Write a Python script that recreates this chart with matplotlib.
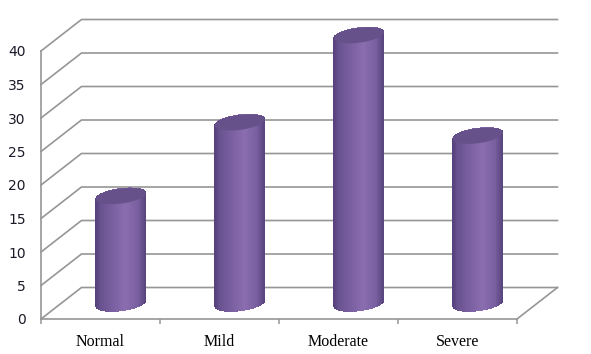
import numpy as np
import matplotlib.pyplot as plt
from matplotlib.collections import PolyCollection
from matplotlib.patches import Polygon
from matplotlib.colors import to_rgb

categories = ['Normal', 'Mild', 'Moderate', 'Severe']
values = [16, 27, 40, 25]
yticks = [0, 5, 10, 15, 20, 25, 30, 35, 40]

# oblique "3d" depth offset in data units
DX, DY = 0.34, 4.7
grid_col = '#969696'


def proj(x, y, d):
    return x + d * DX, y + d * DY


fig = plt.figure(figsize=(5.91, 3.54), dpi=100)
ax = fig.add_axes([41 / 591, 35 / 354, 476 / 591, 268 / 354])
ax.set_xlim(0, 4)
ax.set_ylim(0, 40)

for s in ['top', 'right']:
    ax.spines[s].set_visible(False)
for s in ['left', 'bottom']:
    ax.spines[s].set_color(grid_col)
    ax.spines[s].set_linewidth(1.2)

ax.set_yticks(yticks)
ax.set_yticklabels([str(v) for v in yticks])
ax.tick_params(axis='y', length=0, pad=11, labelsize=10, labelcolor='#1a1a28')
ax.set_xticks([i + 0.5 for i in range(len(categories))])
ax.set_xticklabels(categories, fontfamily='Liberation Serif', fontsize=11.5)
ax.set_xticks(range(len(categories) + 1), minor=True)
ax.tick_params(axis='x', which='major', length=0, pad=11)
ax.tick_params(axis='x', which='minor', length=3.5, width=1.1, color=grid_col)

# walls and floor
for v in yticks:
    x0, y0 = proj(0, v, 0)
    x1, y1 = proj(0, v, 1)
    x2, y2 = proj(4, v, 1)
    ax.plot([x0, x1, x2], [y0, y1, y2], color=grid_col, lw=1.2, clip_on=False, zorder=1)
xa, ya = proj(4, 0, 0)
xb, yb = proj(4, 0, 1)
ax.plot([xa, xb], [ya, yb], color=grid_col, lw=1.2, clip_on=False, zorder=1)

# cylinders
a = 0.21      # half width (x units)
b = 1.12      # half height of ellipse (y units)
sh = 0.45     # tilt of the ellipse
stops = [(0.0, '#54407a'), (0.12, '#6a5391'), (0.6, '#8a6db0'),
         (0.85, '#7a60a0'), (1.0, '#58447e')]
pos = [p for p, c in stops]
rgbs = np.array([to_rgb(c) for p, c in stops])

n = 60
u = np.linspace(-1, 1, n + 1)
for i, v in enumerate(values):
    cx, ybase = proj(i + 0.5, 0, 0.5)
    ytop = ybase + v
    xs = cx + a * u
    r = np.sqrt(np.clip(1 - u ** 2, 0, 1))
    lo = ybase - b * r + sh * u
    hi = ytop + b * r + sh * u
    polys = []
    cols = []
    for k in range(n):
        polys.append([(xs[k], lo[k]), (xs[k + 1] + 0.002, lo[k + 1]),
                      (xs[k + 1] + 0.002, hi[k + 1]), (xs[k], hi[k])])
        f = (k + 0.5) / n
        cols.append([np.interp(f, pos, rgbs[:, j]) for j in range(3)])
    pc = PolyCollection(polys, facecolors=cols, edgecolors='none',
                        antialiased=False, clip_on=False, zorder=3)
    ax.add_collection(pc)
    t = np.linspace(0, 2 * np.pi, 100)
    cap = np.column_stack([cx + a * np.cos(t), ytop + b * np.sin(t) + sh * np.cos(t)])
    ax.add_patch(Polygon(cap, closed=True, facecolor='#66518b', edgecolor='none',
                         clip_on=False, zorder=4))

fig.savefig('out.png', dpi=100)
